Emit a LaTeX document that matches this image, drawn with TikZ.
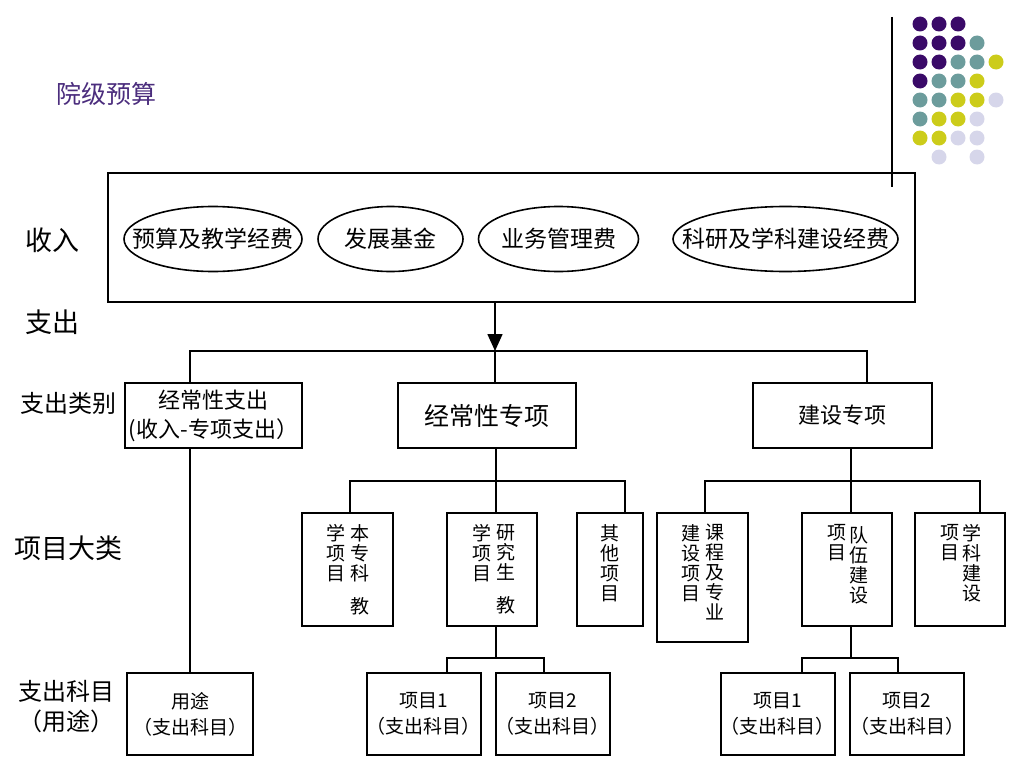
\documentclass[tikz,border=0pt]{standalone}
\usepackage{fontspec}
\setmainfont{Noto Sans CJK SC}
\usetikzlibrary{shapes.geometric,arrows.meta}
\definecolor{titlec}{RGB}{75,45,125}
\definecolor{dotp}{RGB}{58,10,104}
\definecolor{dott}{RGB}{108,156,156}
\definecolor{doty}{RGB}{204,204,26}
\definecolor{dotl}{RGB}{214,214,234}
\newcommand{\fs}[1]{\fontsize{#1}{#1}\selectfont}
\newcommand{\zw}[1]{\makebox[0pt]{#1}}
\begin{document}
\begin{tikzpicture}[x=1pt,y=-1pt,
  box/.style={draw,line width=2pt,inner sep=0pt,align=center},
  oval/.style={draw,ellipse,line width=1.6pt,inner sep=0pt,minimum height=65pt,font=\fs{23}},
  conn/.style={line width=1.6pt},
  lbl/.style={inner sep=0pt,align=center},
  vt/.style={inner sep=0pt,align=center,anchor=north,font=\fontsize{19}{20}\selectfont},
  bt/.style={box,minimum height=82pt,font=\fontsize{19}{26}\selectfont},
]
\useasboundingbox (0,0) rectangle (1024,768);
% decoration
\draw[line width=2pt] (892,17) -- (892,187);
\foreach \c/\x/\y in {dotp/920/24,dotp/939/24,dotp/958/24,
  dotp/920/43,dotp/939/43,dotp/958/43,dott/977/43,
  dotp/920/62,dotp/939/62,dott/958/62,dott/977/62,doty/996/62,
  dotp/920/81,dott/939/81,dott/958/81,doty/977/81,
  dott/920/100,dott/939/100,doty/958/100,doty/977/100,dotl/996/100,
  dott/920/119,doty/939/119,doty/958/119,dotl/977/119,
  doty/920/138,doty/939/138,dotl/958/138,dotl/977/138,
  dotl/939/157,dotl/977/157}
  \fill[\c] (\x,\y) circle (7.5);
% title
\node[lbl,text=titlec,font=\fs{25}] (title) at (106,94) {院级预算};
% side labels
\node[lbl,font=\fs{27}] (lin) at (52,240) {收入};
\node[lbl,font=\fs{27}] (lout) at (52,322) {支出};
\node[lbl,font=\fs{24}] (lcat) at (68,403) {支出类别};
\node[lbl,font=\fs{27}] (lproj) at (68,548) {项目大类};
\node[lbl,font=\fontsize{24}{30}\selectfont] (lsub) at (66,707) {支出科目\\（用途）};
% income box
\node[box,minimum width=807pt,minimum height=129pt] (inbox) at (511.5,237.5) {};
\node[oval,minimum width=178pt] (e1) at (213,239) {\zw{预算及教学经费}};
\node[oval,minimum width=145pt] (e2) at (390.5,239) {\zw{发展基金}};
\node[oval,minimum width=160pt] (e3) at (558.5,239) {\zw{业务管理费}};
\node[oval,minimum width=225pt] (e4) at (785.5,239) {\zw{科研及学科建设经费}};
% level 1
\node[box,minimum width=177pt,minimum height=65pt,font=\fontsize{22}{29}\selectfont] (b1) at (213.5,415.5) {经常性支出\\(收入-专项支出）};
\node[box,minimum width=178pt,minimum height=65pt,font=\fs{25}] (b2) at (487,415.5) {经常性专项};
\node[box,minimum width=179pt,minimum height=65pt,font=\fs{22}] (b3) at (842.5,415.5) {建设专项};
% level 2
\node[box,minimum width=91pt,minimum height=113pt] (l1) at (347.5,569.5) {};
\node[box,minimum width=90pt,minimum height=113pt] (l2) at (492,569.5) {};
\node[box,minimum width=66pt,minimum height=113pt] (l3) at (610,569.5) {};
\node[box,minimum width=91pt,minimum height=129pt] (r1) at (702.5,577.5) {};
\node[box,minimum width=90pt,minimum height=113pt] (r2) at (847,569.5) {};
\node[box,minimum width=90pt,minimum height=113pt] (r3) at (960,569.5) {};
% vertical texts
\node[vt] (l1a) at (360,524) {本\\专\\科\\[13pt]教};
\node[vt] (l1b) at (336,524) {学\\项\\目};
\node[vt] (l2a) at (506,524) {研\\究\\生\\[13pt]教};
\node[vt] (l2b) at (482,524) {学\\项\\目};
\node[vt] (l3a) at (610,524) {其\\他\\项\\目};
\node[vt] (r1a) at (715,524) {课\\程\\及\\专\\业};
\node[vt] (r1b) at (691,524) {建\\设\\项\\目};
\node[vt] (r2a) at (859,526) {队\\伍\\建\\设};
\node[vt] (r2b) at (837,524) {项\\目};
\node[vt] (r3a) at (972,524) {学\\科\\建\\设};
\node[vt] (r3b) at (950,524) {项\\目};
% level 3
\node[bt,minimum width=126pt] (p0) at (190,714) {用途\\（支出科目）};
\node[bt,minimum width=113pt] (p1) at (423.5,714) {项目1\\（支出科目）};
\node[bt,minimum width=113pt] (p2) at (552.5,714) {项目2\\（支出科目）};
\node[bt,minimum width=111pt] (q1) at (777.5,714) {项目1\\（支出科目）};
\node[bt,minimum width=112pt] (q2) at (907,714) {项目2\\（支出科目）};
% connectors
\coordinate (ja) at (495,351);
\coordinate (j1) at (190,351);
\coordinate (j3) at (867,351);
\draw[conn,-{Triangle[width=15pt,length=17pt]}] (inbox.south -| ja) -- (ja);
\draw[conn] (b1.north -| j1) -- (j1) -- (j3) -- (b3.north -| j3);
\draw[conn] (ja) -- (b2.north -| ja);
\draw[conn] (b1.south -| p0.north) -- (p0.north);
% mid branch
\coordinate (ka) at (496,481);
\coordinate (k1) at (350,481);
\coordinate (k3) at (625,481);
\draw[conn] (b2.south -| ka) -- (ka);
\draw[conn] (l1.north -| k1) -- (k1) -- (k3) -- (l3.north -| k3);
\draw[conn] (ka) -- (l2.north -| ka);
\coordinate (ma) at (496,658);
\coordinate (m1) at (447,658);
\coordinate (m2) at (544,658);
\draw[conn] (l2.south -| ma) -- (ma);
\draw[conn] (p1.north -| m1) -- (m1) -- (m2) -- (p2.north -| m2);
% right branch
\coordinate (na) at (851,481);
\coordinate (n1) at (705,481);
\coordinate (n3) at (980,481);
\draw[conn] (b3.south -| na) -- (na);
\draw[conn] (r1.north -| n1) -- (n1) -- (n3) -- (r3.north -| n3);
\draw[conn] (na) -- (r2.north -| na);
\coordinate (oa) at (851,658);
\coordinate (o1) at (802,658);
\coordinate (o2) at (898,658);
\draw[conn] (r2.south -| oa) -- (oa);
\draw[conn] (q1.north -| o1) -- (o1) -- (o2) -- (q2.north -| o2);
\end{tikzpicture}
\end{document}
